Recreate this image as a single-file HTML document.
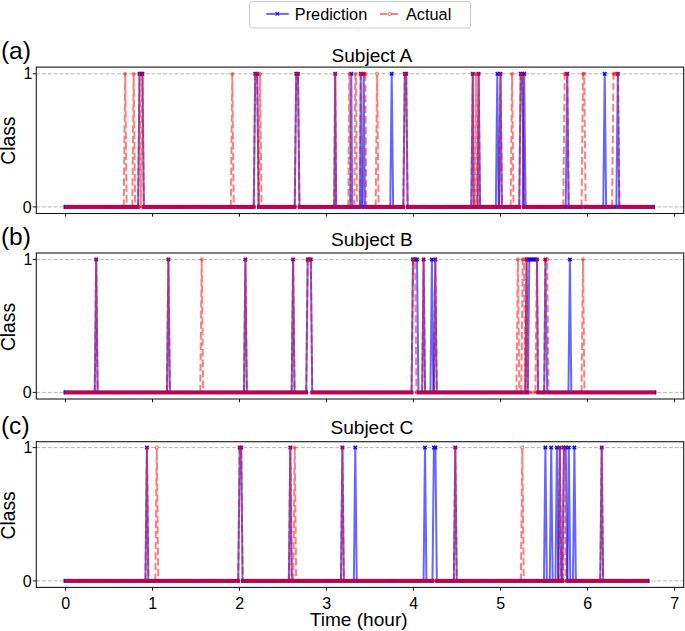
<!DOCTYPE html>
<html lang="en"><head><meta charset="utf-8"><title>Prediction vs Actual</title>
<style>html,body{margin:0;padding:0;background:#fff}body{width:685px;height:631px;position:relative;overflow:hidden;font-family:"Liberation Sans",Arial,sans-serif}</style>
</head><body>
<svg width="685" height="631" viewBox="0 0 685 631" style="position:absolute;left:0;top:0">
<rect width="685" height="631" fill="#fff"/>
<line x1="36.3" x2="683.7" y1="73.8" y2="73.8" stroke="#b8b8b8" stroke-width="1" stroke-dasharray="4 1.75"/>
<line x1="36.3" x2="683.7" y1="206.9" y2="206.9" stroke="#b8b8b8" stroke-width="1" stroke-dasharray="4 1.75"/>
<g fill="none" stroke="rgb(0,0,255)" stroke-opacity="0.6" stroke-width="2" stroke-linejoin="round">
<path d="M138.10,206.9L139.55,73.8L142.45,73.8L143.90,206.9"/>
<path d="M253.75,206.9L255.20,73.8L257.20,73.8L258.65,206.9"/>
<path d="M294.75,206.9L296.20,73.8L298.00,73.8L299.45,206.9"/>
<path d="M334.20,206.9L335.20,73.8L336.20,206.9"/>
<path d="M350.30,206.9L351.30,73.8L352.20,206.9"/>
<path d="M360.00,206.9L360.80,73.8L361.60,206.9"/>
<path d="M362.60,206.9L363.70,73.8L365.00,206.9"/>
<path d="M390.25,206.9L391.70,73.8L393.15,206.9"/>
<path d="M403.35,206.9L404.80,73.8L406.20,73.8L407.65,206.9"/>
<path d="M471.30,206.9L472.80,73.8L473.80,206.9"/>
<path d="M477.60,206.9L478.60,73.8L480.10,206.9"/>
<path d="M495.85,206.9L497.30,73.8L498.75,206.9"/>
<path d="M499.05,206.9L500.50,73.8L501.95,206.9"/>
<path d="M519.25,206.9L520.70,73.8L522.40,73.8L523.85,206.9"/>
<path d="M522.75,206.9L524.20,73.8L525.65,206.9"/>
<path d="M565.75,206.9L567.20,73.8L568.65,206.9"/>
<path d="M603.25,206.9L604.70,73.8L606.15,206.9"/>
<path d="M616.35,206.9L617.80,73.8L619.25,206.9"/>
</g>
<g stroke="rgb(0,0,255)" stroke-width="1.5" stroke-opacity="0.95">
<path d="M137.85,72.10l3.4,3.4m0,-3.4l-3.4,3.4"/>
<path d="M139.30,72.10l3.4,3.4m0,-3.4l-3.4,3.4"/>
<path d="M140.75,72.10l3.4,3.4m0,-3.4l-3.4,3.4"/>
<path d="M253.50,72.10l3.4,3.4m0,-3.4l-3.4,3.4"/>
<path d="M255.50,72.10l3.4,3.4m0,-3.4l-3.4,3.4"/>
<path d="M294.50,72.10l3.4,3.4m0,-3.4l-3.4,3.4"/>
<path d="M296.30,72.10l3.4,3.4m0,-3.4l-3.4,3.4"/>
<path d="M333.50,72.10l3.4,3.4m0,-3.4l-3.4,3.4"/>
<path d="M349.60,72.10l3.4,3.4m0,-3.4l-3.4,3.4"/>
<path d="M359.10,72.10l3.4,3.4m0,-3.4l-3.4,3.4"/>
<path d="M362.00,72.10l3.4,3.4m0,-3.4l-3.4,3.4"/>
<path d="M390.00,72.10l3.4,3.4m0,-3.4l-3.4,3.4"/>
<path d="M403.10,72.10l3.4,3.4m0,-3.4l-3.4,3.4"/>
<path d="M404.50,72.10l3.4,3.4m0,-3.4l-3.4,3.4"/>
<path d="M471.10,72.10l3.4,3.4m0,-3.4l-3.4,3.4"/>
<path d="M476.90,72.10l3.4,3.4m0,-3.4l-3.4,3.4"/>
<path d="M495.60,72.10l3.4,3.4m0,-3.4l-3.4,3.4"/>
<path d="M498.80,72.10l3.4,3.4m0,-3.4l-3.4,3.4"/>
<path d="M519.00,72.10l3.4,3.4m0,-3.4l-3.4,3.4"/>
<path d="M520.70,72.10l3.4,3.4m0,-3.4l-3.4,3.4"/>
<path d="M522.50,72.10l3.4,3.4m0,-3.4l-3.4,3.4"/>
<path d="M565.50,72.10l3.4,3.4m0,-3.4l-3.4,3.4"/>
<path d="M603.00,72.10l3.4,3.4m0,-3.4l-3.4,3.4"/>
<path d="M616.10,72.10l3.4,3.4m0,-3.4l-3.4,3.4"/>
</g>
<g fill="none" stroke="rgb(255,0,0)" stroke-opacity="0.5" stroke-width="2" stroke-dasharray="7.4 3.2" stroke-linejoin="round">
<path d="M123.75,206.9L125.20,73.8L126.65,206.9"/>
<path d="M132.25,206.9L133.70,73.8L135.15,206.9"/>
<path d="M138.10,206.9L139.55,73.8L140.90,206.9L142.45,73.8L143.90,206.9"/>
<path d="M230.85,206.9L232.30,73.8L233.75,206.9"/>
<path d="M253.75,206.9L255.20,73.8L257.20,73.8L258.65,206.9"/>
<path d="M258.65,206.9L260.10,73.8L261.55,206.9"/>
<path d="M294.75,206.9L296.20,73.8L298.00,73.8L299.45,206.9"/>
<path d="M334.20,206.9L335.20,73.8L336.20,206.9"/>
<path d="M348.30,206.9L349.30,73.8L349.80,73.8L350.60,206.9"/>
<path d="M354.30,206.9L355.30,73.8L356.00,73.8L357.00,206.9"/>
<path d="M359.80,206.9L360.60,73.8L365.40,73.8L366.20,206.9"/>
<path d="M375.65,206.9L377.10,73.8L378.55,206.9"/>
<path d="M403.35,206.9L404.80,73.8L406.20,73.8L407.65,206.9"/>
<path d="M471.30,206.9L472.80,73.8L473.80,206.9"/>
<path d="M475.20,206.9L475.90,73.8L476.60,206.9"/>
<path d="M477.60,206.9L478.60,73.8L480.10,206.9"/>
<path d="M499.05,206.9L500.50,73.8L501.95,206.9"/>
<path d="M510.65,206.9L512.10,73.8L513.55,206.9"/>
<path d="M519.25,206.9L520.70,73.8L522.40,73.8L523.85,206.9"/>
<path d="M563.25,206.9L564.70,73.8L567.30,73.8L568.75,206.9"/>
<path d="M581.55,206.9L583.00,73.8L584.20,73.8L585.65,206.9"/>
<path d="M612.05,206.9L613.50,73.8L618.00,73.8L619.45,206.9"/>
</g>
<g stroke="rgb(255,0,0)" stroke-width="1.1" stroke-opacity="0.5">
<circle cx="125.20" cy="73.8" r="1.55" fill="rgb(255,0,0)" fill-opacity="0.22" stroke-opacity="0.4"/>
<circle cx="133.70" cy="73.8" r="1.55" fill="rgb(255,0,0)" fill-opacity="0.22" stroke-opacity="0.4"/>
<circle cx="139.55" cy="73.8" r="1.55" fill="rgb(255,0,0)" fill-opacity="0.3" stroke-opacity="0.35"/>
<circle cx="142.45" cy="73.8" r="1.55" fill="rgb(255,0,0)" fill-opacity="0.3" stroke-opacity="0.35"/>
<circle cx="232.30" cy="73.8" r="1.55" fill="rgb(255,0,0)" fill-opacity="0.22" stroke-opacity="0.4"/>
<circle cx="255.20" cy="73.8" r="1.55" fill="rgb(255,0,0)" fill-opacity="0.3" stroke-opacity="0.35"/>
<circle cx="257.20" cy="73.8" r="1.55" fill="rgb(255,0,0)" fill-opacity="0.3" stroke-opacity="0.35"/>
<circle cx="260.10" cy="73.8" r="1.55" fill="rgb(255,0,0)" fill-opacity="0.22" stroke-opacity="0.4"/>
<circle cx="296.20" cy="73.8" r="1.55" fill="rgb(255,0,0)" fill-opacity="0.3" stroke-opacity="0.35"/>
<circle cx="298.00" cy="73.8" r="1.55" fill="rgb(255,0,0)" fill-opacity="0.3" stroke-opacity="0.35"/>
<circle cx="335.20" cy="73.8" r="1.55" fill="rgb(255,0,0)" fill-opacity="0.3" stroke-opacity="0.35"/>
<circle cx="349.55" cy="73.8" r="1.55" fill="rgb(255,0,0)" fill-opacity="0.3" stroke-opacity="0.35"/>
<circle cx="355.65" cy="73.8" r="1.55" fill="rgb(255,0,0)" fill-opacity="0.22" stroke-opacity="0.4"/>
<circle cx="360.60" cy="73.8" r="1.55" fill="rgb(255,0,0)" fill-opacity="0.3" stroke-opacity="0.35"/>
<circle cx="362.20" cy="73.8" r="1.55" fill="rgb(255,0,0)" fill-opacity="0.3" stroke-opacity="0.35"/>
<circle cx="363.80" cy="73.8" r="1.55" fill="rgb(255,0,0)" fill-opacity="0.3" stroke-opacity="0.35"/>
<circle cx="365.40" cy="73.8" r="1.55" fill="rgb(255,0,0)" fill-opacity="0.3" stroke-opacity="0.35"/>
<circle cx="377.10" cy="73.8" r="1.55" fill="#fff" fill-opacity="0.75"/>
<circle cx="404.80" cy="73.8" r="1.55" fill="rgb(255,0,0)" fill-opacity="0.3" stroke-opacity="0.35"/>
<circle cx="406.20" cy="73.8" r="1.55" fill="rgb(255,0,0)" fill-opacity="0.3" stroke-opacity="0.35"/>
<circle cx="472.80" cy="73.8" r="1.55" fill="rgb(255,0,0)" fill-opacity="0.3" stroke-opacity="0.35"/>
<circle cx="475.90" cy="73.8" r="1.55" fill="rgb(255,0,0)" fill-opacity="0.22" stroke-opacity="0.4"/>
<circle cx="478.60" cy="73.8" r="1.55" fill="rgb(255,0,0)" fill-opacity="0.3" stroke-opacity="0.35"/>
<circle cx="500.50" cy="73.8" r="1.55" fill="rgb(255,0,0)" fill-opacity="0.3" stroke-opacity="0.35"/>
<circle cx="512.10" cy="73.8" r="1.55" fill="rgb(255,0,0)" fill-opacity="0.22" stroke-opacity="0.4"/>
<circle cx="520.70" cy="73.8" r="1.55" fill="rgb(255,0,0)" fill-opacity="0.3" stroke-opacity="0.35"/>
<circle cx="522.40" cy="73.8" r="1.55" fill="rgb(255,0,0)" fill-opacity="0.3" stroke-opacity="0.35"/>
<circle cx="564.70" cy="73.8" r="1.55" fill="rgb(255,0,0)" fill-opacity="0.22" stroke-opacity="0.4"/>
<circle cx="566.00" cy="73.8" r="1.55" fill="rgb(255,0,0)" fill-opacity="0.3" stroke-opacity="0.35"/>
<circle cx="567.30" cy="73.8" r="1.55" fill="rgb(255,0,0)" fill-opacity="0.3" stroke-opacity="0.35"/>
<circle cx="583.00" cy="73.8" r="1.55" fill="rgb(255,0,0)" fill-opacity="0.22" stroke-opacity="0.4"/>
<circle cx="584.20" cy="73.8" r="1.55" fill="rgb(255,0,0)" fill-opacity="0.22" stroke-opacity="0.4"/>
<circle cx="613.50" cy="73.8" r="1.55" fill="rgb(255,0,0)" fill-opacity="0.22" stroke-opacity="0.4"/>
<circle cx="615.00" cy="73.8" r="1.55" fill="rgb(255,0,0)" fill-opacity="0.22" stroke-opacity="0.4"/>
<circle cx="616.50" cy="73.8" r="1.55" fill="rgb(255,0,0)" fill-opacity="0.3" stroke-opacity="0.35"/>
<circle cx="618.00" cy="73.8" r="1.55" fill="rgb(255,0,0)" fill-opacity="0.3" stroke-opacity="0.35"/>
</g>
<rect x="63.8" y="204.85" width="76.0" height="4.1" fill="#8c0f8c"/>
<line x1="65.0" x2="139.8" y1="206.9" y2="206.9" stroke="#cd0032" stroke-width="2.6"/>
<line x1="65.0" x2="139.8" y1="206.9" y2="206.9" stroke="#8c0f8c" stroke-opacity="0.6" stroke-width="2.6" stroke-dasharray="2.8 8" stroke-dashoffset="3.3"/>
<rect x="139.8" y="205.10" width="2.4" height="3.6" fill="rgb(255,150,150)"/>
<line x1="139.8" x2="142.2" y1="206.9" y2="206.9" stroke="rgb(240,50,50)" stroke-width="2.4" stroke-dasharray="2.5 1.5"/>
<rect x="142.2" y="204.85" width="113.3" height="4.1" fill="#8c0f8c"/>
<line x1="142.2" x2="255.5" y1="206.9" y2="206.9" stroke="#cd0032" stroke-width="2.6"/>
<line x1="142.2" x2="255.5" y1="206.9" y2="206.9" stroke="#8c0f8c" stroke-opacity="0.6" stroke-width="2.6" stroke-dasharray="2.8 8" stroke-dashoffset="4.9"/>
<rect x="257.0" y="204.85" width="39.5" height="4.1" fill="#8c0f8c"/>
<line x1="257.0" x2="296.5" y1="206.9" y2="206.9" stroke="#cd0032" stroke-width="2.6"/>
<line x1="257.0" x2="296.5" y1="206.9" y2="206.9" stroke="#8c0f8c" stroke-opacity="0.6" stroke-width="2.6" stroke-dasharray="2.8 8" stroke-dashoffset="0.9"/>
<rect x="297.8" y="204.85" width="63.7" height="4.1" fill="#8c0f8c"/>
<line x1="297.8" x2="361.5" y1="206.9" y2="206.9" stroke="#cd0032" stroke-width="2.6"/>
<line x1="297.8" x2="361.5" y1="206.9" y2="206.9" stroke="#8c0f8c" stroke-opacity="0.6" stroke-width="2.6" stroke-dasharray="2.8 8" stroke-dashoffset="9.3"/>
<rect x="361.5" y="204.85" width="3.0" height="4.1" fill="rgb(50,30,235)"/>
<rect x="364.5" y="204.85" width="40.6" height="4.1" fill="#8c0f8c"/>
<line x1="364.5" x2="405.1" y1="206.9" y2="206.9" stroke="#cd0032" stroke-width="2.6"/>
<line x1="364.5" x2="405.1" y1="206.9" y2="206.9" stroke="#8c0f8c" stroke-opacity="0.6" stroke-width="2.6" stroke-dasharray="2.8 8" stroke-dashoffset="0.4"/>
<rect x="406.0" y="204.85" width="115.0" height="4.1" fill="#8c0f8c"/>
<line x1="406.0" x2="521.0" y1="206.9" y2="206.9" stroke="#cd0032" stroke-width="2.6"/>
<line x1="406.0" x2="521.0" y1="206.9" y2="206.9" stroke="#8c0f8c" stroke-opacity="0.6" stroke-width="2.6" stroke-dasharray="2.8 8" stroke-dashoffset="9.5"/>
<rect x="522.2" y="204.85" width="42.8" height="4.1" fill="#8c0f8c"/>
<line x1="522.2" x2="565.0" y1="206.9" y2="206.9" stroke="#cd0032" stroke-width="2.6"/>
<line x1="522.2" x2="565.0" y1="206.9" y2="206.9" stroke="#8c0f8c" stroke-opacity="0.6" stroke-width="2.6" stroke-dasharray="2.8 8" stroke-dashoffset="6.9"/>
<rect x="565.0" y="204.85" width="2.1" height="4.1" fill="rgb(50,30,235)"/>
<rect x="567.1" y="204.85" width="16.2" height="4.1" fill="#8c0f8c"/>
<line x1="567.1" x2="583.3" y1="206.9" y2="206.9" stroke="#cd0032" stroke-width="2.6"/>
<line x1="567.1" x2="583.3" y1="206.9" y2="206.9" stroke="#8c0f8c" stroke-opacity="0.6" stroke-width="2.6" stroke-dasharray="2.8 8" stroke-dashoffset="8.6"/>
<rect x="583.3" y="204.85" width="0.7" height="4.1" fill="rgb(50,30,235)"/>
<rect x="584.0" y="204.85" width="29.8" height="4.1" fill="#8c0f8c"/>
<line x1="584.0" x2="613.8" y1="206.9" y2="206.9" stroke="#cd0032" stroke-width="2.6"/>
<line x1="584.0" x2="613.8" y1="206.9" y2="206.9" stroke="#8c0f8c" stroke-opacity="0.6" stroke-width="2.6" stroke-dasharray="2.8 8" stroke-dashoffset="3.9"/>
<rect x="613.8" y="204.85" width="4.0" height="4.1" fill="rgb(50,30,235)"/>
<rect x="617.8" y="204.85" width="37.0" height="4.1" fill="#8c0f8c"/>
<line x1="617.8" x2="654.3" y1="206.9" y2="206.9" stroke="#cd0032" stroke-width="2.6"/>
<line x1="617.8" x2="654.3" y1="206.9" y2="206.9" stroke="#8c0f8c" stroke-opacity="0.6" stroke-width="2.6" stroke-dasharray="2.8 8" stroke-dashoffset="5.3"/>
<rect x="63.6" y="204.90" width="1.6" height="4" fill="#3a10e0"/>
<rect x="653.7" y="204.90" width="1.3" height="4" fill="#3a10e0"/>
<rect x="36.3" y="67.1" width="647.4000000000001" height="146.4" fill="none" stroke="#1a1a1a" stroke-width="1.1"/>
<line x1="65.5" x2="65.5" y1="213.5" y2="216.7" stroke="#1a1a1a" stroke-width="1"/>
<line x1="152.5" x2="152.5" y1="213.5" y2="216.7" stroke="#1a1a1a" stroke-width="1"/>
<line x1="239.5" x2="239.5" y1="213.5" y2="216.7" stroke="#1a1a1a" stroke-width="1"/>
<line x1="326.5" x2="326.5" y1="213.5" y2="216.7" stroke="#1a1a1a" stroke-width="1"/>
<line x1="413.5" x2="413.5" y1="213.5" y2="216.7" stroke="#1a1a1a" stroke-width="1"/>
<line x1="500.5" x2="500.5" y1="213.5" y2="216.7" stroke="#1a1a1a" stroke-width="1"/>
<line x1="587.5" x2="587.5" y1="213.5" y2="216.7" stroke="#1a1a1a" stroke-width="1"/>
<line x1="674.5" x2="674.5" y1="213.5" y2="216.7" stroke="#1a1a1a" stroke-width="1"/>
<line x1="32.699999999999996" x2="36.3" y1="73.8" y2="73.8" stroke="#1a1a1a" stroke-width="1"/>
<text transform="translate(32.3,79.4) scale(1.0,1)" text-anchor="end" font-size="16" font-family="Liberation Sans, Arial, sans-serif" fill="#000">1</text>
<line x1="32.699999999999996" x2="36.3" y1="206.9" y2="206.9" stroke="#1a1a1a" stroke-width="1"/>
<text transform="translate(31.7,212.5) scale(1.0,1)" text-anchor="end" font-size="16" font-family="Liberation Sans, Arial, sans-serif" fill="#000">0</text>
<text transform="translate(371.8,62.2) scale(1.0,1)" text-anchor="middle" font-size="19.1" font-family="Liberation Sans, Arial, sans-serif" fill="#000">Subject A</text>
<text transform="translate(0.9,58.5) scale(1.0,1)" text-anchor="start" font-size="24.6" font-family="Liberation Sans, Arial, sans-serif" fill="#000">(a)</text>
<text transform="translate(15.4,140.6) rotate(-90)" text-anchor="middle" font-size="19.3" font-family="Liberation Sans, Arial, sans-serif" fill="#000">Class</text>
<line x1="36.3" x2="683.7" y1="259.4" y2="259.4" stroke="#b8b8b8" stroke-width="1" stroke-dasharray="4 1.75"/>
<line x1="36.3" x2="683.7" y1="392.4" y2="392.4" stroke="#b8b8b8" stroke-width="1" stroke-dasharray="4 1.75"/>
<g fill="none" stroke="rgb(0,0,255)" stroke-opacity="0.6" stroke-width="2" stroke-linejoin="round">
<path d="M94.75,392.4L96.20,259.4L97.65,392.4"/>
<path d="M166.95,392.4L168.40,259.4L169.85,392.4"/>
<path d="M243.95,392.4L245.40,259.4L246.85,392.4"/>
<path d="M291.65,392.4L293.10,259.4L294.55,392.4"/>
<path d="M306.25,392.4L307.70,259.4L310.80,259.4L312.25,392.4"/>
<path d="M411.55,392.4L413.00,259.4L417.00,259.4L418.45,392.4"/>
<path d="M422.15,392.4L423.60,259.4L425.05,392.4"/>
<path d="M430.45,392.4L431.90,259.4L433.35,392.4"/>
<path d="M433.85,392.4L435.30,259.4L436.75,392.4"/>
<path d="M525.30,392.4L526.60,259.4L527.80,392.4L529.30,259.4L537.00,259.4L538.00,392.4"/>
<path d="M544.20,392.4L545.40,259.4L547.20,392.4"/>
<path d="M568.45,392.4L569.90,259.4L571.35,392.4"/>
</g>
<g stroke="rgb(0,0,255)" stroke-width="1.5" stroke-opacity="0.95">
<path d="M94.50,257.70l3.4,3.4m0,-3.4l-3.4,3.4"/>
<path d="M166.70,257.70l3.4,3.4m0,-3.4l-3.4,3.4"/>
<path d="M243.70,257.70l3.4,3.4m0,-3.4l-3.4,3.4"/>
<path d="M291.40,257.70l3.4,3.4m0,-3.4l-3.4,3.4"/>
<path d="M306.00,257.70l3.4,3.4m0,-3.4l-3.4,3.4"/>
<path d="M307.55,257.70l3.4,3.4m0,-3.4l-3.4,3.4"/>
<path d="M309.10,257.70l3.4,3.4m0,-3.4l-3.4,3.4"/>
<path d="M411.30,257.70l3.4,3.4m0,-3.4l-3.4,3.4"/>
<path d="M412.63,257.70l3.4,3.4m0,-3.4l-3.4,3.4"/>
<path d="M413.97,257.70l3.4,3.4m0,-3.4l-3.4,3.4"/>
<path d="M415.30,257.70l3.4,3.4m0,-3.4l-3.4,3.4"/>
<path d="M421.90,257.70l3.4,3.4m0,-3.4l-3.4,3.4"/>
<path d="M430.20,257.70l3.4,3.4m0,-3.4l-3.4,3.4"/>
<path d="M433.60,257.70l3.4,3.4m0,-3.4l-3.4,3.4"/>
<path d="M524.90,257.70l3.4,3.4m0,-3.4l-3.4,3.4"/>
<path d="M526.39,257.70l3.4,3.4m0,-3.4l-3.4,3.4"/>
<path d="M527.87,257.70l3.4,3.4m0,-3.4l-3.4,3.4"/>
<path d="M529.36,257.70l3.4,3.4m0,-3.4l-3.4,3.4"/>
<path d="M530.84,257.70l3.4,3.4m0,-3.4l-3.4,3.4"/>
<path d="M532.33,257.70l3.4,3.4m0,-3.4l-3.4,3.4"/>
<path d="M533.81,257.70l3.4,3.4m0,-3.4l-3.4,3.4"/>
<path d="M535.30,257.70l3.4,3.4m0,-3.4l-3.4,3.4"/>
<path d="M543.70,257.70l3.4,3.4m0,-3.4l-3.4,3.4"/>
<path d="M568.20,257.70l3.4,3.4m0,-3.4l-3.4,3.4"/>
</g>
<g fill="none" stroke="rgb(255,0,0)" stroke-opacity="0.5" stroke-width="2" stroke-dasharray="7.4 3.2" stroke-linejoin="round">
<path d="M94.75,392.4L96.20,259.4L97.65,392.4"/>
<path d="M166.95,392.4L168.40,259.4L169.85,392.4"/>
<path d="M200.25,392.4L201.70,259.4L203.15,392.4"/>
<path d="M243.95,392.4L245.40,259.4L246.85,392.4"/>
<path d="M291.65,392.4L293.10,259.4L294.55,392.4"/>
<path d="M306.25,392.4L307.70,259.4L310.80,259.4L312.25,392.4"/>
<path d="M411.55,392.4L413.00,259.4L415.00,259.4L416.45,392.4"/>
<path d="M422.15,392.4L423.60,259.4L425.05,392.4"/>
<path d="M433.85,392.4L435.30,259.4L436.75,392.4"/>
<path d="M516.45,392.4L517.90,259.4L519.35,392.4"/>
<path d="M521.25,392.4L522.70,259.4L524.00,259.4L525.45,392.4"/>
<path d="M525.30,392.4L526.60,259.4L527.80,392.4"/>
<path d="M535.30,392.4L536.90,259.4L538.00,392.4"/>
<path d="M544.20,392.4L545.40,259.4L547.20,259.4L548.50,392.4"/>
<path d="M581.55,392.4L583.00,259.4L584.45,392.4"/>
</g>
<g stroke="rgb(255,0,0)" stroke-width="1.1" stroke-opacity="0.5">
<circle cx="96.20" cy="259.4" r="1.55" fill="rgb(255,0,0)" fill-opacity="0.3" stroke-opacity="0.35"/>
<circle cx="168.40" cy="259.4" r="1.55" fill="rgb(255,0,0)" fill-opacity="0.3" stroke-opacity="0.35"/>
<circle cx="201.70" cy="259.4" r="1.55" fill="rgb(255,0,0)" fill-opacity="0.22" stroke-opacity="0.4"/>
<circle cx="245.40" cy="259.4" r="1.55" fill="rgb(255,0,0)" fill-opacity="0.3" stroke-opacity="0.35"/>
<circle cx="293.10" cy="259.4" r="1.55" fill="rgb(255,0,0)" fill-opacity="0.3" stroke-opacity="0.35"/>
<circle cx="307.70" cy="259.4" r="1.55" fill="rgb(255,0,0)" fill-opacity="0.3" stroke-opacity="0.35"/>
<circle cx="309.25" cy="259.4" r="1.55" fill="rgb(255,0,0)" fill-opacity="0.3" stroke-opacity="0.35"/>
<circle cx="310.80" cy="259.4" r="1.55" fill="rgb(255,0,0)" fill-opacity="0.3" stroke-opacity="0.35"/>
<circle cx="413.00" cy="259.4" r="1.55" fill="rgb(255,0,0)" fill-opacity="0.3" stroke-opacity="0.35"/>
<circle cx="415.00" cy="259.4" r="1.55" fill="rgb(255,0,0)" fill-opacity="0.3" stroke-opacity="0.35"/>
<circle cx="423.60" cy="259.4" r="1.55" fill="rgb(255,0,0)" fill-opacity="0.3" stroke-opacity="0.35"/>
<circle cx="435.30" cy="259.4" r="1.55" fill="rgb(255,0,0)" fill-opacity="0.3" stroke-opacity="0.35"/>
<circle cx="517.90" cy="259.4" r="1.55" fill="rgb(255,0,0)" fill-opacity="0.22" stroke-opacity="0.4"/>
<circle cx="522.70" cy="259.4" r="1.55" fill="rgb(255,0,0)" fill-opacity="0.22" stroke-opacity="0.4"/>
<circle cx="524.00" cy="259.4" r="1.55" fill="rgb(255,0,0)" fill-opacity="0.22" stroke-opacity="0.4"/>
<circle cx="526.60" cy="259.4" r="1.55" fill="rgb(255,0,0)" fill-opacity="0.3" stroke-opacity="0.35"/>
<circle cx="536.90" cy="259.4" r="1.55" fill="rgb(255,0,0)" fill-opacity="0.3" stroke-opacity="0.35"/>
<circle cx="545.40" cy="259.4" r="1.55" fill="rgb(255,0,0)" fill-opacity="0.3" stroke-opacity="0.35"/>
<circle cx="547.20" cy="259.4" r="1.55" fill="rgb(255,0,0)" fill-opacity="0.3" stroke-opacity="0.35"/>
<circle cx="583.00" cy="259.4" r="1.55" fill="rgb(255,0,0)" fill-opacity="0.22" stroke-opacity="0.4"/>
</g>
<rect x="63.8" y="390.35" width="244.2" height="4.1" fill="#8c0f8c"/>
<line x1="65.0" x2="308.0" y1="392.4" y2="392.4" stroke="#cd0032" stroke-width="2.6"/>
<line x1="65.0" x2="308.0" y1="392.4" y2="392.4" stroke="#8c0f8c" stroke-opacity="0.6" stroke-width="2.6" stroke-dasharray="2.8 8" stroke-dashoffset="3.3"/>
<rect x="310.6" y="390.35" width="102.7" height="4.1" fill="#8c0f8c"/>
<line x1="310.6" x2="413.3" y1="392.4" y2="392.4" stroke="#cd0032" stroke-width="2.6"/>
<line x1="310.6" x2="413.3" y1="392.4" y2="392.4" stroke="#8c0f8c" stroke-opacity="0.6" stroke-width="2.6" stroke-dasharray="2.8 8" stroke-dashoffset="0.5"/>
<rect x="414.8" y="390.60" width="2.0" height="3.6" fill="rgb(255,150,150)"/>
<line x1="414.8" x2="416.8" y1="392.4" y2="392.4" stroke="rgb(240,50,50)" stroke-width="2.4" stroke-dasharray="2.5 1.5"/>
<rect x="416.8" y="390.35" width="106.2" height="4.1" fill="#8c0f8c"/>
<line x1="416.8" x2="523.0" y1="392.4" y2="392.4" stroke="#cd0032" stroke-width="2.6"/>
<line x1="416.8" x2="523.0" y1="392.4" y2="392.4" stroke="#8c0f8c" stroke-opacity="0.6" stroke-width="2.6" stroke-dasharray="2.8 8" stroke-dashoffset="9.5"/>
<rect x="523.0" y="390.35" width="0.8" height="4.1" fill="rgb(50,30,235)"/>
<rect x="523.8" y="390.35" width="5.7" height="4.1" fill="#8c0f8c"/>
<line x1="523.8" x2="529.5" y1="392.4" y2="392.4" stroke="#cd0032" stroke-width="2.6"/>
<line x1="523.8" x2="529.5" y1="392.4" y2="392.4" stroke="#8c0f8c" stroke-opacity="0.6" stroke-width="2.6" stroke-dasharray="2.8 8" stroke-dashoffset="8.5"/>
<rect x="529.5" y="390.60" width="6.8" height="3.6" fill="rgb(255,150,150)"/>
<line x1="529.5" x2="536.3" y1="392.4" y2="392.4" stroke="rgb(240,50,50)" stroke-width="2.4" stroke-dasharray="2.5 1.5"/>
<rect x="536.3" y="390.35" width="9.6" height="4.1" fill="#8c0f8c"/>
<line x1="536.3" x2="545.9" y1="392.4" y2="392.4" stroke="#cd0032" stroke-width="2.6"/>
<line x1="536.3" x2="545.9" y1="392.4" y2="392.4" stroke="#8c0f8c" stroke-opacity="0.6" stroke-width="2.6" stroke-dasharray="2.8 8" stroke-dashoffset="10.2"/>
<rect x="545.9" y="390.35" width="0.9" height="4.1" fill="rgb(50,30,235)"/>
<rect x="546.8" y="390.35" width="109.3" height="4.1" fill="#8c0f8c"/>
<line x1="546.8" x2="655.6" y1="392.4" y2="392.4" stroke="#cd0032" stroke-width="2.6"/>
<line x1="546.8" x2="655.6" y1="392.4" y2="392.4" stroke="#8c0f8c" stroke-opacity="0.6" stroke-width="2.6" stroke-dasharray="2.8 8" stroke-dashoffset="9.9"/>
<rect x="63.6" y="390.40" width="1.6" height="4" fill="#3a10e0"/>
<rect x="655.0" y="390.40" width="1.3" height="4" fill="#3a10e0"/>
<rect x="36.3" y="253.0" width="647.4000000000001" height="146.0" fill="none" stroke="#1a1a1a" stroke-width="1.1"/>
<line x1="65.5" x2="65.5" y1="399.0" y2="402.2" stroke="#1a1a1a" stroke-width="1"/>
<line x1="152.5" x2="152.5" y1="399.0" y2="402.2" stroke="#1a1a1a" stroke-width="1"/>
<line x1="239.5" x2="239.5" y1="399.0" y2="402.2" stroke="#1a1a1a" stroke-width="1"/>
<line x1="326.5" x2="326.5" y1="399.0" y2="402.2" stroke="#1a1a1a" stroke-width="1"/>
<line x1="413.5" x2="413.5" y1="399.0" y2="402.2" stroke="#1a1a1a" stroke-width="1"/>
<line x1="500.5" x2="500.5" y1="399.0" y2="402.2" stroke="#1a1a1a" stroke-width="1"/>
<line x1="587.5" x2="587.5" y1="399.0" y2="402.2" stroke="#1a1a1a" stroke-width="1"/>
<line x1="674.5" x2="674.5" y1="399.0" y2="402.2" stroke="#1a1a1a" stroke-width="1"/>
<line x1="32.699999999999996" x2="36.3" y1="259.4" y2="259.4" stroke="#1a1a1a" stroke-width="1"/>
<text transform="translate(32.3,265.0) scale(1.0,1)" text-anchor="end" font-size="16" font-family="Liberation Sans, Arial, sans-serif" fill="#000">1</text>
<line x1="32.699999999999996" x2="36.3" y1="392.4" y2="392.4" stroke="#1a1a1a" stroke-width="1"/>
<text transform="translate(31.7,398.0) scale(1.0,1)" text-anchor="end" font-size="16" font-family="Liberation Sans, Arial, sans-serif" fill="#000">0</text>
<text transform="translate(371.8,246.3) scale(1.0,1)" text-anchor="middle" font-size="19.1" font-family="Liberation Sans, Arial, sans-serif" fill="#000">Subject B</text>
<text transform="translate(0.9,244.9) scale(1.0,1)" text-anchor="start" font-size="24.6" font-family="Liberation Sans, Arial, sans-serif" fill="#000">(b)</text>
<text transform="translate(15.4,327.0) rotate(-90)" text-anchor="middle" font-size="19.3" font-family="Liberation Sans, Arial, sans-serif" fill="#000">Class</text>
<line x1="36.3" x2="683.7" y1="447.6" y2="447.6" stroke="#b8b8b8" stroke-width="1" stroke-dasharray="4 1.75"/>
<line x1="36.3" x2="683.7" y1="580.9" y2="580.9" stroke="#b8b8b8" stroke-width="1" stroke-dasharray="4 1.75"/>
<g fill="none" stroke="rgb(0,0,255)" stroke-opacity="0.6" stroke-width="2" stroke-linejoin="round">
<path d="M145.45,580.9L146.90,447.6L148.35,580.9"/>
<path d="M238.25,580.9L239.70,447.6L241.20,447.6L242.65,580.9"/>
<path d="M288.85,580.9L290.30,447.6L291.75,580.9"/>
<path d="M340.95,580.9L342.40,447.6L343.85,580.9"/>
<path d="M353.85,580.9L355.30,447.6L356.75,580.9"/>
<path d="M423.55,580.9L425.00,447.6L426.45,580.9"/>
<path d="M432.45,580.9L433.90,447.6L435.40,447.6L436.85,580.9"/>
<path d="M453.85,580.9L455.30,447.6L456.75,580.9"/>
<path d="M543.95,580.9L545.40,447.6L546.85,580.9"/>
<path d="M549.75,580.9L551.20,447.6L552.65,580.9"/>
<path d="M555.45,580.9L556.90,447.6L558.35,580.9"/>
<path d="M558.35,580.9L559.80,447.6L561.25,580.9"/>
<path d="M562.35,580.9L563.80,447.6L565.80,447.6L567.25,580.9"/>
<path d="M567.35,580.9L568.80,447.6L570.25,580.9"/>
<path d="M572.95,580.9L574.40,447.6L575.85,580.9"/>
<path d="M600.25,580.9L601.70,447.6L603.15,580.9"/>
</g>
<g stroke="rgb(0,0,255)" stroke-width="1.5" stroke-opacity="0.95">
<path d="M145.20,445.90l3.4,3.4m0,-3.4l-3.4,3.4"/>
<path d="M238.00,445.90l3.4,3.4m0,-3.4l-3.4,3.4"/>
<path d="M239.50,445.90l3.4,3.4m0,-3.4l-3.4,3.4"/>
<path d="M288.60,445.90l3.4,3.4m0,-3.4l-3.4,3.4"/>
<path d="M340.70,445.90l3.4,3.4m0,-3.4l-3.4,3.4"/>
<path d="M353.60,445.90l3.4,3.4m0,-3.4l-3.4,3.4"/>
<path d="M423.30,445.90l3.4,3.4m0,-3.4l-3.4,3.4"/>
<path d="M432.20,445.90l3.4,3.4m0,-3.4l-3.4,3.4"/>
<path d="M433.70,445.90l3.4,3.4m0,-3.4l-3.4,3.4"/>
<path d="M453.60,445.90l3.4,3.4m0,-3.4l-3.4,3.4"/>
<path d="M543.70,445.90l3.4,3.4m0,-3.4l-3.4,3.4"/>
<path d="M549.50,445.90l3.4,3.4m0,-3.4l-3.4,3.4"/>
<path d="M555.20,445.90l3.4,3.4m0,-3.4l-3.4,3.4"/>
<path d="M558.10,445.90l3.4,3.4m0,-3.4l-3.4,3.4"/>
<path d="M562.10,445.90l3.4,3.4m0,-3.4l-3.4,3.4"/>
<path d="M564.10,445.90l3.4,3.4m0,-3.4l-3.4,3.4"/>
<path d="M567.10,445.90l3.4,3.4m0,-3.4l-3.4,3.4"/>
<path d="M572.70,445.90l3.4,3.4m0,-3.4l-3.4,3.4"/>
<path d="M600.00,445.90l3.4,3.4m0,-3.4l-3.4,3.4"/>
</g>
<g fill="none" stroke="rgb(255,0,0)" stroke-opacity="0.5" stroke-width="2" stroke-dasharray="7.4 3.2" stroke-linejoin="round">
<path d="M145.45,580.9L146.90,447.6L148.35,580.9"/>
<path d="M155.35,580.9L156.80,447.6L158.25,580.9"/>
<path d="M238.25,580.9L239.70,447.6L241.20,447.6L242.65,580.9"/>
<path d="M288.85,580.9L290.30,447.6L291.75,580.9"/>
<path d="M293.25,580.9L294.70,447.6L296.15,580.9"/>
<path d="M340.95,580.9L342.40,447.6L343.85,580.9"/>
<path d="M453.85,580.9L455.30,447.6L456.75,580.9"/>
<path d="M520.85,580.9L522.30,447.6L523.75,580.9"/>
<path d="M558.35,580.9L559.80,447.6L561.25,580.9"/>
<path d="M562.75,580.9L564.20,447.6L565.65,580.9"/>
<path d="M600.25,580.9L601.70,447.6L603.15,580.9"/>
</g>
<g stroke="rgb(255,0,0)" stroke-width="1.1" stroke-opacity="0.5">
<circle cx="146.90" cy="447.6" r="1.55" fill="rgb(255,0,0)" fill-opacity="0.3" stroke-opacity="0.35"/>
<circle cx="156.80" cy="447.6" r="1.55" fill="#fff" fill-opacity="0.75"/>
<circle cx="239.70" cy="447.6" r="1.55" fill="rgb(255,0,0)" fill-opacity="0.3" stroke-opacity="0.35"/>
<circle cx="241.20" cy="447.6" r="1.55" fill="rgb(255,0,0)" fill-opacity="0.3" stroke-opacity="0.35"/>
<circle cx="290.30" cy="447.6" r="1.55" fill="rgb(255,0,0)" fill-opacity="0.3" stroke-opacity="0.35"/>
<circle cx="294.70" cy="447.6" r="1.55" fill="rgb(255,0,0)" fill-opacity="0.22" stroke-opacity="0.4"/>
<circle cx="342.40" cy="447.6" r="1.55" fill="rgb(255,0,0)" fill-opacity="0.3" stroke-opacity="0.35"/>
<circle cx="455.30" cy="447.6" r="1.55" fill="rgb(255,0,0)" fill-opacity="0.3" stroke-opacity="0.35"/>
<circle cx="522.30" cy="447.6" r="1.55" fill="#fff" fill-opacity="0.75"/>
<circle cx="559.80" cy="447.6" r="1.55" fill="rgb(255,0,0)" fill-opacity="0.3" stroke-opacity="0.35"/>
<circle cx="564.20" cy="447.6" r="1.55" fill="rgb(255,0,0)" fill-opacity="0.3" stroke-opacity="0.35"/>
<circle cx="601.70" cy="447.6" r="1.55" fill="rgb(255,0,0)" fill-opacity="0.3" stroke-opacity="0.35"/>
</g>
<rect x="63.8" y="578.85" width="176.2" height="4.1" fill="#8c0f8c"/>
<line x1="65.0" x2="240.0" y1="580.9" y2="580.9" stroke="#cd0032" stroke-width="2.6"/>
<line x1="65.0" x2="240.0" y1="580.9" y2="580.9" stroke="#8c0f8c" stroke-opacity="0.6" stroke-width="2.6" stroke-dasharray="2.8 8" stroke-dashoffset="3.3"/>
<rect x="241.0" y="578.85" width="193.2" height="4.1" fill="#8c0f8c"/>
<line x1="241.0" x2="434.2" y1="580.9" y2="580.9" stroke="#cd0032" stroke-width="2.6"/>
<line x1="241.0" x2="434.2" y1="580.9" y2="580.9" stroke="#8c0f8c" stroke-opacity="0.6" stroke-width="2.6" stroke-dasharray="2.8 8" stroke-dashoffset="6.5"/>
<rect x="434.2" y="579.10" width="1.0" height="3.6" fill="rgb(255,150,150)"/>
<line x1="434.2" x2="435.2" y1="580.9" y2="580.9" stroke="rgb(240,50,50)" stroke-width="2.4" stroke-dasharray="2.5 1.5"/>
<rect x="435.2" y="578.85" width="128.9" height="4.1" fill="#8c0f8c"/>
<line x1="435.2" x2="564.1" y1="580.9" y2="580.9" stroke="#cd0032" stroke-width="2.6"/>
<line x1="435.2" x2="564.1" y1="580.9" y2="580.9" stroke="#8c0f8c" stroke-opacity="0.6" stroke-width="2.6" stroke-dasharray="2.8 8" stroke-dashoffset="6.3"/>
<rect x="564.1" y="579.10" width="1.5" height="3.6" fill="rgb(255,150,150)"/>
<line x1="564.1" x2="565.6" y1="580.9" y2="580.9" stroke="rgb(240,50,50)" stroke-width="2.4" stroke-dasharray="2.5 1.5"/>
<rect x="565.6" y="578.85" width="83.7" height="4.1" fill="#8c0f8c"/>
<line x1="565.6" x2="648.8" y1="580.9" y2="580.9" stroke="#cd0032" stroke-width="2.6"/>
<line x1="565.6" x2="648.8" y1="580.9" y2="580.9" stroke="#8c0f8c" stroke-opacity="0.6" stroke-width="2.6" stroke-dasharray="2.8 8" stroke-dashoffset="7.1"/>
<rect x="63.6" y="578.90" width="1.6" height="4" fill="#3a10e0"/>
<rect x="648.2" y="578.90" width="1.3" height="4" fill="#3a10e0"/>
<rect x="36.3" y="441.7" width="647.4000000000001" height="145.7" fill="none" stroke="#1a1a1a" stroke-width="1.1"/>
<line x1="65.5" x2="65.5" y1="587.4" y2="590.6" stroke="#1a1a1a" stroke-width="1"/>
<line x1="152.5" x2="152.5" y1="587.4" y2="590.6" stroke="#1a1a1a" stroke-width="1"/>
<line x1="239.5" x2="239.5" y1="587.4" y2="590.6" stroke="#1a1a1a" stroke-width="1"/>
<line x1="326.5" x2="326.5" y1="587.4" y2="590.6" stroke="#1a1a1a" stroke-width="1"/>
<line x1="413.5" x2="413.5" y1="587.4" y2="590.6" stroke="#1a1a1a" stroke-width="1"/>
<line x1="500.5" x2="500.5" y1="587.4" y2="590.6" stroke="#1a1a1a" stroke-width="1"/>
<line x1="587.5" x2="587.5" y1="587.4" y2="590.6" stroke="#1a1a1a" stroke-width="1"/>
<line x1="674.5" x2="674.5" y1="587.4" y2="590.6" stroke="#1a1a1a" stroke-width="1"/>
<line x1="32.699999999999996" x2="36.3" y1="447.6" y2="447.6" stroke="#1a1a1a" stroke-width="1"/>
<text transform="translate(32.3,453.2) scale(1.0,1)" text-anchor="end" font-size="16" font-family="Liberation Sans, Arial, sans-serif" fill="#000">1</text>
<line x1="32.699999999999996" x2="36.3" y1="580.9" y2="580.9" stroke="#1a1a1a" stroke-width="1"/>
<text transform="translate(31.7,586.5) scale(1.0,1)" text-anchor="end" font-size="16" font-family="Liberation Sans, Arial, sans-serif" fill="#000">0</text>
<text transform="translate(371.8,433.8) scale(1.0,1)" text-anchor="middle" font-size="19.1" font-family="Liberation Sans, Arial, sans-serif" fill="#000">Subject C</text>
<text transform="translate(0.9,433.6) scale(1.0,1)" text-anchor="start" font-size="24.6" font-family="Liberation Sans, Arial, sans-serif" fill="#000">(c)</text>
<text transform="translate(15.4,515.4) rotate(-90)" text-anchor="middle" font-size="19.3" font-family="Liberation Sans, Arial, sans-serif" fill="#000">Class</text>
<text transform="translate(65.7,608.9) scale(1.0,1)" text-anchor="middle" font-size="16" font-family="Liberation Sans, Arial, sans-serif" fill="#000">0</text>
<text transform="translate(152.7,608.9) scale(1.0,1)" text-anchor="middle" font-size="16" font-family="Liberation Sans, Arial, sans-serif" fill="#000">1</text>
<text transform="translate(239.7,608.9) scale(1.0,1)" text-anchor="middle" font-size="16" font-family="Liberation Sans, Arial, sans-serif" fill="#000">2</text>
<text transform="translate(326.7,608.9) scale(1.0,1)" text-anchor="middle" font-size="16" font-family="Liberation Sans, Arial, sans-serif" fill="#000">3</text>
<text transform="translate(413.7,608.9) scale(1.0,1)" text-anchor="middle" font-size="16" font-family="Liberation Sans, Arial, sans-serif" fill="#000">4</text>
<text transform="translate(500.7,608.9) scale(1.0,1)" text-anchor="middle" font-size="16" font-family="Liberation Sans, Arial, sans-serif" fill="#000">5</text>
<text transform="translate(587.7,608.9) scale(1.0,1)" text-anchor="middle" font-size="16" font-family="Liberation Sans, Arial, sans-serif" fill="#000">6</text>
<text transform="translate(674.7,608.9) scale(1.0,1)" text-anchor="middle" font-size="16" font-family="Liberation Sans, Arial, sans-serif" fill="#000">7</text>
<text transform="translate(358.7,625.8) scale(1.0,1)" text-anchor="middle" font-size="19.1" font-family="Liberation Sans, Arial, sans-serif" fill="#000">Time (hour)</text>
<rect x="249.6" y="1.4" width="221" height="26.6" rx="2.5" fill="#fff" stroke="#ccc" stroke-width="1"/>
<line x1="266.3" x2="288.7" y1="13.9" y2="13.9" stroke="rgb(0,0,255)" stroke-opacity="0.6" stroke-width="2"/>
<path d="M275.6,12.2l3.4,3.4m0,-3.4l-3.4,3.4" stroke="rgb(0,0,255)" stroke-width="1.2" stroke-opacity="0.85"/>
<text transform="translate(294.8,19.5) scale(1.0,1)" text-anchor="start" font-size="16.3" font-family="Liberation Sans, Arial, sans-serif" fill="#000">Prediction</text>
<line x1="380" x2="398.5" y1="13.9" y2="13.9" stroke="rgb(255,0,0)" stroke-opacity="0.5" stroke-width="2" stroke-dasharray="7.4 3.2"/>
<circle cx="389.7" cy="13.9" r="1.6" stroke="rgb(255,0,0)" stroke-width="1" stroke-opacity="0.55" fill="#fff"/>
<text transform="translate(406.0,19.5) scale(1.0,1)" text-anchor="start" font-size="16.3" font-family="Liberation Sans, Arial, sans-serif" fill="#000">Actual</text>
</svg>
</body></html>
